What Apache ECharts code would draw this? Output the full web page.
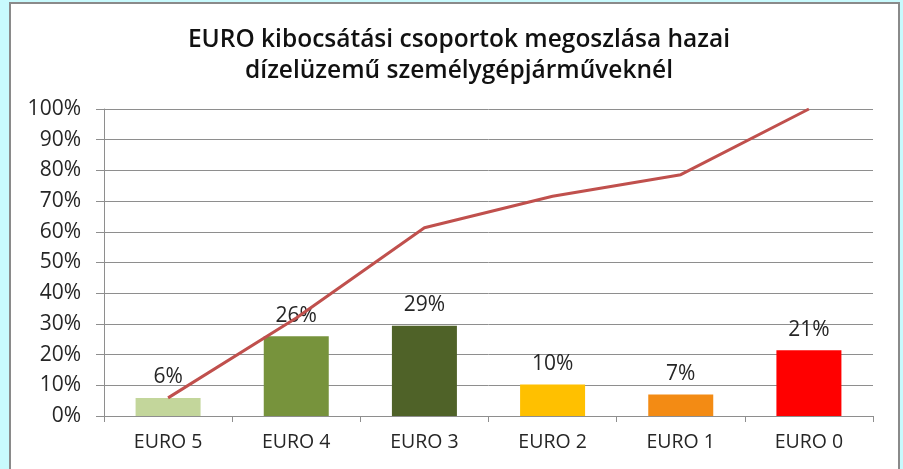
<!DOCTYPE html>
<html>
<head>
<meta charset="utf-8">
<script src="https://cdn.jsdelivr.net/npm/echarts@6/dist/echarts.min.js"></script>
<style>
  html, body { margin: 0; padding: 0; background: #c8fafd; }
  #chart { width: 903px; height: 469px; }
</style>
</head>
<body>
<div id="chart"></div>
<script>
// values (share of diesel cars, %)
const categories = ["EURO 5", "EURO 4", "EURO 3", "EURO 2", "EURO 1", "EURO 0"];
const shares = [5.9, 26.0, 29.4, 10.3, 7.0, 21.4];
const cumulative = [5.9, 31.9, 61.3, 71.6, 78.6, 100];
const barColors = ["#c3d69b", "#77933c", "#4f6228", "#ffc000", "#f38b14", "#ff0000"];
const yTicks = [0, 10, 20, 30, 40, 50, 60, 70, 80, 90, 100];

const font = "Open Sans";
const textColor = "#262626";
const gridColor = "#8e8e8e";

const chart = echarts.init(document.getElementById("chart"));
chart.setOption({
  backgroundColor: "#c8fafd",
  animation: false,
  graphic: [
    {
      type: "rect",
      shape: { x: 10, y: 3, width: 889, height: 480 },
      style: { fill: "#ffffff", stroke: "#8a8a8a", lineWidth: 2 },
      z: -10,
    },
  ],
  title: {
    text: "EURO kibocsátási csoportok megoszlása hazai\ndízelüzemű személygépjárműveknél",
    left: 454,
    top: 20,
    textAlign: "center",
    textStyle: {
      fontFamily: font,
      fontWeight: 600,
      fontSize: 24.5,
      lineHeight: 31,
      color: "#111",
    },
  },
  grid: { left: 104, right: 30, top: 109, bottom: 53 },
  xAxis: {
    type: "category",
    data: categories,
    axisLine: { lineStyle: { color: gridColor } },
    axisTick: { show: true, length: 6, lineStyle: { color: gridColor } },
    axisLabel: {
      fontFamily: font,
      fontSize: 19.5,
      color: textColor,
      margin: 16,
    },
  },
  yAxis: {
    type: "value",
    min: yTicks[0],
    max: yTicks[yTicks.length - 1],
    interval: yTicks[1] - yTicks[0],
    axisLine: { show: true, lineStyle: { color: gridColor } },
    axisTick: { show: true, length: 8, lineStyle: { color: gridColor } },
    splitLine: { lineStyle: { color: gridColor } },
    axisLabel: {
      fontFamily: font,
      fontSize: 21,
      color: textColor,
      margin: 23,
      formatter: "{value}%",
    },
  },
  series: [
    {
      type: "bar",
      barWidth: 65,
      data: shares.map((v, i) => ({ value: v, itemStyle: { color: barColors[i] } })),
      label: {
        show: true,
        position: "top",
        distance: 10,
        fontFamily: font,
        fontSize: 21,
        color: textColor,
        formatter: (p) => Math.round(p.value) + "%",
      },
    },
    {
      type: "line",
      data: cumulative,
      symbol: "none",
      lineStyle: { color: "#c0504d", width: 3 },
      z: 5,
    },
  ],
});
</script>
</body>
</html>
